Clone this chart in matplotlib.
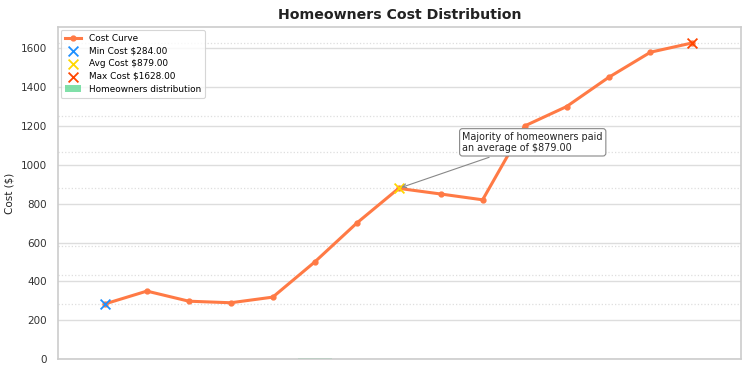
import matplotlib.pyplot as plt
import numpy as np

# data
periods = list(range(15))
costs = [284, 350, 298, 290, 319, 500, 700, 879, 850, 820, 1200, 1300, 1450, 1580, 1628]
ref_levels = [284, 432, 581, 879, 1064, 1249, 1628]
hist_pos = [4, 5, 6]
hist_vals = [2, 6, 2]

min_cost = min(costs)
max_cost = max(costs)
avg_cost = 879.0
i_min = costs.index(min_cost)
i_max = costs.index(max_cost)
i_avg = costs.index(879)

fig = plt.figure(figsize=(7.52, 3.76), dpi=100)
ax = fig.add_axes([0.077, 0.045, 0.908, 0.883])

grid_c = '#dddddd'
for v in ref_levels:
    ax.axhline(v, color='#dedede', linestyle=':', linewidth=0.9, zorder=0)
ax.grid(axis='y', color=grid_c, linewidth=1.0, zorder=0)
ax.set_axisbelow(True)

ax.bar(hist_pos, hist_vals, width=0.8, color='#2ecc71', alpha=0.6,
       label='Homeowners distribution', zorder=1)
ax.plot(periods, costs, color='#ff7a45', linewidth=2.2, marker='o', markersize=3.5,
        label='Cost Curve', zorder=3)
ax.scatter([i_min], [min_cost], marker='x', s=50, color='#1e90ff', linewidths=1.3,
           label='Min Cost $%.2f' % min_cost, zorder=4)
ax.scatter([i_avg], [avg_cost], marker='x', s=50, color='#ffd700', linewidths=1.3,
           label='Avg Cost $%.2f' % avg_cost, zorder=4)
ax.scatter([i_max], [max_cost], marker='x', s=50, color='#ff4500', linewidths=1.3,
           label='Max Cost $%.2f' % max_cost, zorder=4)

ax.annotate('Majority of homeowners paid\nan average of $%.2f' % avg_cost,
            xy=(i_avg, avg_cost), xytext=(8.52, 1116), ha='left', va='center',
            fontsize=6.9, color='#222222',
            bbox=dict(boxstyle='round,pad=0.3', fc='white', ec='#888888', lw=0.8),
            arrowprops=dict(arrowstyle='->', color='#888888', lw=0.8), zorder=5)

ax.set_xlim(-1.12, 15.15)
ax.set_ylim(0, max_cost * 1.05)
ax.set_xticks([])
ax.set_yticks(np.arange(0, 1601, 200))
ax.tick_params(axis='y', length=0, pad=8, labelsize=7.5, labelcolor='#333333')
ax.set_ylabel('Cost ($)', fontsize=7.5, color='#222222')
ax.set_title('Homeowners Cost Distribution', fontsize=10.2, fontweight='bold', color='#222222', pad=6)
for s in ax.spines.values():
    s.set_color('#cccccc')
    s.set_linewidth(1.2)

handles, labels = ax.get_legend_handles_labels()
order = [labels.index(l) for l in ['Cost Curve', 'Min Cost $%.2f' % min_cost,
                                   'Avg Cost $%.2f' % avg_cost, 'Max Cost $%.2f' % max_cost,
                                   'Homeowners distribution']]
leg = ax.legend([handles[i] for i in order], [labels[i] for i in order],
                loc='upper left', fontsize=6.4, frameon=True, borderpad=0.45,
                labelspacing=0.42, handlelength=1.9, borderaxespad=0.3)
leg.get_frame().set_edgecolor('#cccccc')
leg.get_frame().set_linewidth(0.8)

fig.savefig('out.png', dpi=100)
